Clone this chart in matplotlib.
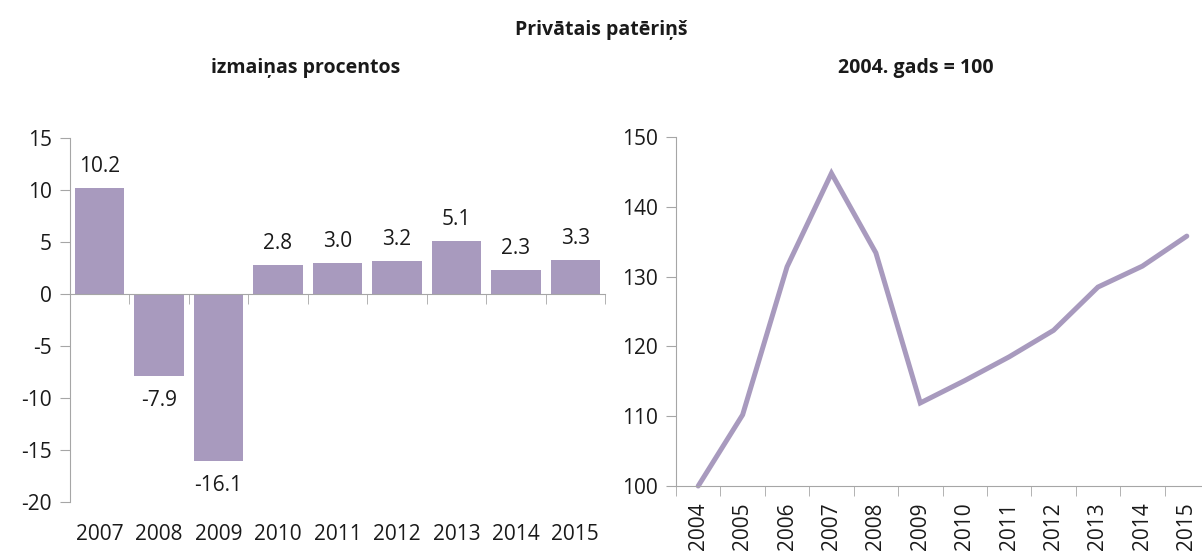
"""
Privātais patēriņš: annual change and index (2004 = 100).
"""

import matplotlib
matplotlib.use("Agg")
import matplotlib.pyplot as plt

plt.rcParams['font.family'] = ['Open Sans', 'DejaVu Sans']

# Left panel: change in percent
bar_years = ["2007", "2008", "2009", "2010", "2011", "2012", "2013", "2014", "2015"]
bar_values = [10.2, -7.9, -16.1, 2.8, 3.0, 3.2, 5.1, 2.3, 3.3]
bar_yticks = [-20, -15, -10, -5, 0, 5, 10, 15]

# Right panel: index, 2004 = 100
line_years = ["2004", "2005", "2006", "2007", "2008", "2009", "2010",
              "2011", "2012", "2013", "2014", "2015"]
line_values = [100.0, 110.2, 131.4, 144.8, 133.4, 111.9, 115.1,
               118.5, 122.3, 128.5, 131.5, 135.8]
line_yticks = [100, 110, 120, 130, 140, 150]

PURPLE = "#a89abe"
GREY = "#a6a6a6"
TEXT = "#1a1a1a"
FS = 15


def main():
    fig = plt.figure(figsize=(12.02, 5.51), dpi=100)

    # ---------------- left: bars ----------------
    ax1 = fig.add_axes([70 / 1202, 49 / 551, 535 / 1202, 364 / 551])
    x1 = list(range(len(bar_values)))
    ax1.bar(x1, bar_values, width=0.83, color=PURPLE, zorder=2)
    ax1.set_xlim(-0.5, len(bar_values) - 0.5)
    ax1.set_ylim(-20, 15)

    for xi, v in zip(x1, bar_values):
        if v >= 0:
            ax1.annotate(f"{v:.1f}", (xi, v), xytext=(0, 8), textcoords="offset points",
                         ha="center", va="bottom", fontsize=FS, color=TEXT)
        else:
            ax1.annotate(f"{v:.1f}", (xi, v), xytext=(0, -10), textcoords="offset points",
                         ha="center", va="top", fontsize=FS, color=TEXT)

    for s in ["right", "bottom"]:
        ax1.spines[s].set_visible(False)
    ax1.spines["left"].set_color(GREY)
    # zero line with category separators hanging below it
    ax1.spines["top"].set_position(("data", 0))
    ax1.spines["top"].set_color(GREY)
    ax1.spines["top"].set_zorder(3)

    ax1.set_yticks(bar_yticks)
    ax1.set_yticklabels([str(t).replace("\u2212", "-") for t in bar_yticks])
    ax1.set_xticks(x1)
    ax1.set_xticklabels(bar_years)
    ax1.set_xticks([i + 0.5 for i in range(len(bar_values))], minor=True)
    ax1.tick_params(axis="x", which="major", length=0, pad=16, labelsize=FS,
                    labelcolor=TEXT, top=False)
    ax1.tick_params(axis="x", which="minor", bottom=False, top=True,
                    direction="in", length=7, color=GREY)
    ax1.tick_params(axis="y", length=7, color=GREY, labelsize=FS,
                    labelcolor=TEXT, pad=6)

    # ---------------- right: line ----------------
    ax2 = fig.add_axes([676 / 1202, 65 / 551, 533 / 1202, 349 / 551])
    x2 = list(range(len(line_values)))
    ax2.plot(x2, line_values, color=PURPLE, linewidth=3.6, solid_capstyle="round",
             solid_joinstyle="miter", clip_on=False)
    ax2.set_xlim(-0.5, len(line_values) - 0.5)
    ax2.set_ylim(100, 150)
    for s in ["right", "top"]:
        ax2.spines[s].set_visible(False)
    for s in ["left", "bottom"]:
        ax2.spines[s].set_color(GREY)

    ax2.set_yticks(line_yticks)
    ax2.set_xticks(x2)
    ax2.set_xticklabels(line_years, rotation=90)
    ax2.set_xticks([i - 0.5 for i in range(len(line_values) + 1)], minor=True)
    ax2.tick_params(axis="x", which="major", length=0, pad=12, labelsize=FS,
                    labelcolor=TEXT)
    ax2.tick_params(axis="x", which="minor", length=7, color=GREY)
    ax2.tick_params(axis="y", length=7, color=GREY, labelsize=FS,
                    labelcolor=TEXT, pad=6)

    # ---------------- titles ----------------
    fig.text(601 / 1202, 1 - 30 / 551, "Privātais patēriņš", ha="center", va="center",
             fontsize=14, fontweight="bold", color=TEXT)
    fig.text(306 / 1202, 1 - 68 / 551, "izmaiņas procentos", ha="center", va="center",
             fontsize=14, fontweight="bold", color=TEXT)
    fig.text(916 / 1202, 1 - 68 / 551, "2004. gads = 100", ha="center", va="center",
             fontsize=14, fontweight="bold", color=TEXT)

    fig.savefig("out.png", dpi=100)


if __name__ == "__main__":
    main()
